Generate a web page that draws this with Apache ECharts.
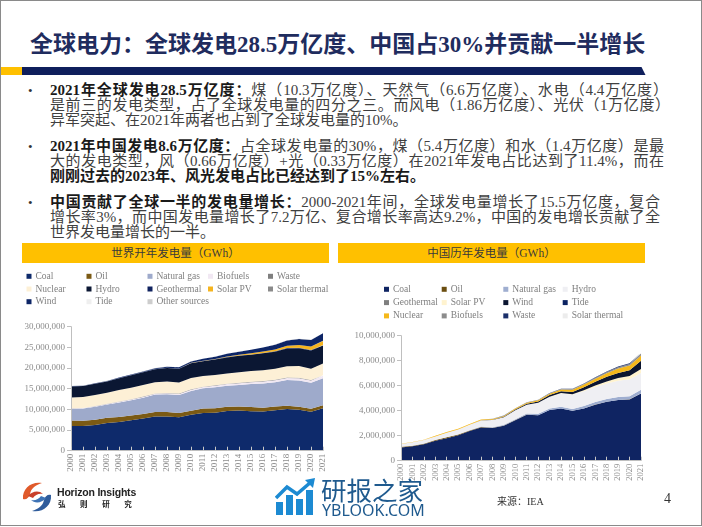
<!DOCTYPE html>
<html><head><meta charset="utf-8">
<script src="https://cdn.jsdelivr.net/npm/echarts/dist/echarts.min.js"></script>
<style>
html,body{margin:0;padding:0;background:#fff;}
#page{position:relative;width:702px;height:527px;overflow:hidden;background:#fff;font-family:"Liberation Serif","Noto Sans CJK SC",serif;}
.abs{position:absolute;white-space:nowrap;}
.ln{position:absolute;left:50px;font-size:15px;line-height:15px;height:15px;white-space:nowrap;color:#404040;}
.jl{text-align:justify;text-align-last:justify;}
.ln b{color:#1a1a1a;font-weight:bold;}
.bul{position:absolute;left:28px;font-size:13px;line-height:15px;color:#333;}
.cbar{position:absolute;top:242.5px;height:20px;line-height:20px;background:#FFC000;text-align:center;font-size:11.5px;color:#3a3a3a;font-family:"Liberation Serif","Noto Sans CJK SC",serif;}
#c1,#c2{position:absolute;left:0;top:0;width:702px;height:527px;}
</style></head>
<body><div id="page">
<div class="abs" style="left:0;top:0;width:702px;height:526px;box-sizing:border-box;border:1.5px solid #8a8a8a;"></div>
<div class="abs" style="left:30px;top:33px;font-size:23px;line-height:23px;font-weight:bold;color:#1F2C5E;">全球电力：全球发电28.5万亿度、中国占30%并贡献一半增长</div>
<div class="abs" style="left:1px;top:67px;width:21px;height:8px;background:#FFC000;"></div>
<div class="abs" style="left:21.5px;top:67px;width:624px;height:8px;background:#0F1F5C;clip-path:polygon(0 0,620px 0,624px 8px,0 8px);"></div>

<div class="bul" style="top:83px;">•</div>
<div class="ln jl" style="top:83px;width:618px;"><b>2021年全球发电28.5万亿度：</b>煤（10.3万亿度）、天然气（6.6万亿度）、水电（4.4万亿度）</div>
<div class="ln jl" style="top:98px;width:620px;">是前三的发电类型，占了全球发电量的四分之三。而风电（1.86万亿度）、光伏（1万亿度）</div>
<div class="ln" style="top:113px;">异军突起、在2021年两者也占到了全球发电量的10%。</div>

<div class="bul" style="top:138.5px;">•</div>
<div class="ln jl" style="top:138.5px;width:614px;"><b>2021年中国发电8.6万亿度：</b>占全球发电量的30%，煤（5.4万亿度）和水（1.4万亿度）是最</div>
<div class="ln jl" style="top:153.5px;width:614px;">大的发电类型，风（0.66万亿度）+光（0.33万亿度）在2021年发电占比达到了11.4%，而在</div>
<div class="ln" style="top:168.5px;"><b>刚刚过去的2023年、风光发电占比已经达到了15%左右。</b></div>

<div class="bul" style="top:195px;">•</div>
<div class="ln jl" style="top:195px;width:610px;"><b>中国贡献了全球一半的发电量增长：</b>2000-2021年间，全球发电量增长了15.5万亿度，复合</div>
<div class="ln jl" style="top:210px;width:610px;">增长率3%，而中国发电量增长了7.2万亿、复合增长率高达9.2%，中国的发电增长贡献了全</div>
<div class="ln" style="top:225px;">世界发电量增长的一半。</div>

<div class="cbar" style="left:22px;width:307px;">世界开年发电量（GWh）</div>
<div class="cbar" style="left:338px;width:307px;">中国历年发电量（GWh）</div>

<div id="c1"></div>
<div id="c2"></div>

<svg class="abs" style="left:19px;top:479px;" width="36" height="36" viewBox="0 0 36 36">
<path d="M4 20 C3 9 13 2 23 4 C17 6 12 9 11 15 C10 19 7 21 4 20 Z" fill="#E05A2B"/>
<path d="M9 17 C13 12 20 11 24 15 C20 14 16 16 14 19 Z" fill="#C9402A"/>
<path d="M32 16 C33 27 23 34 13 32 C19 30 24 27 25 21 C26 17 29 15 32 16 Z" fill="#2F5C9C"/>
<path d="M27 19 C23 24 16 25 12 21 C16 22 20 20 22 17 Z" fill="#3E73B5"/>
</svg>
<div class="abs" style="left:57px;top:486px;font-family:'Liberation Sans','DejaVu Sans',sans-serif;font-weight:bold;font-size:10.5px;line-height:12px;color:#222;letter-spacing:-0.2px;">Horizon Insights</div>
<div class="abs" style="left:58px;top:499px;font-family:'Noto Sans CJK SC',sans-serif;font-weight:bold;font-size:7.5px;line-height:9px;color:#222;letter-spacing:14.6px;">弘则研究</div>

<svg class="abs" style="left:275px;top:478px;" width="42" height="40" viewBox="0 0 42 40">
<rect x="1" y="24" width="7" height="13" fill="#1C8AD2"/>
<rect x="11" y="17" width="7" height="20" fill="#1C8AD2"/>
<rect x="21" y="21" width="7" height="16" fill="#1C8AD2"/>
<rect x="31" y="12" width="7" height="25" fill="#1C8AD2"/>
<polyline points="1,20 12,9 22,16 36,4" fill="none" stroke="#1C8AD2" stroke-width="3.5"/>
<polygon points="30,2 40,0 38,10" fill="#1C8AD2"/>
</svg>
<div class="abs" style="left:321px;top:475px;font-family:'Noto Sans CJK SC',sans-serif;font-size:25.5px;line-height:28px;color:#1F5A8E;">研报之家</div>
<div class="abs" style="left:322px;top:501px;font-family:'Noto Sans','DejaVu Sans',sans-serif;font-size:16px;line-height:19px;color:#1F5A8E;">YBLOOK.COM</div>

<div class="abs" style="left:497px;top:495.5px;font-size:10px;line-height:12px;color:#333;">来源：IEA</div>
<div class="abs" style="left:664px;top:491px;font-size:14px;line-height:16px;color:#333;">4</div>
</div>
<script>
// ---------- shared categories ----------
const years = ['2000','2001','2002','2003','2004','2005','2006','2007','2008','2009','2010','2011','2012','2013','2014','2015','2016','2017','2018','2019','2020','2021'];

// ---------- World electricity generation (GWh) ----------
const worldCoal         = [5990000,5950000,6240000,6730000,6960000,7350000,7790000,8250000,8290000,8120000,8670000,9140000,9170000,9610000,9710000,9540000,9490000,9810000,10100000,9900000,9440000,10250000];
const worldOil          = [1340000,1290000,1270000,1250000,1200000,1180000,1110000,1120000,1060000,1030000,980000,1070000,1110000,1020000,1010000,1010000,930000,870000,800000,760000,700000,760000];
const worldGas          = [2760000,2940000,3100000,3200000,3510000,3700000,3930000,4200000,4330000,4330000,4820000,4870000,5080000,5080000,5180000,5570000,5860000,5880000,6180000,6330000,6270000,6520000];
const worldBiofuels     = [120000,125000,135000,145000,160000,175000,190000,210000,230000,260000,300000,330000,370000,400000,430000,460000,480000,500000,530000,560000,590000,620000];
const worldWaste        = [50000,52000,55000,58000,62000,65000,70000,73000,76000,80000,88000,92000,96000,98000,100000,104000,108000,112000,118000,122000,126000,130000];
const worldNuclear      = [2590000,2650000,2690000,2640000,2770000,2770000,2800000,2720000,2730000,2700000,2760000,2580000,2460000,2480000,2540000,2570000,2610000,2640000,2710000,2790000,2690000,2800000];
const worldHydro        = [2700000,2620000,2690000,2720000,2880000,3000000,3090000,3140000,3290000,3290000,3530000,3570000,3750000,3890000,3980000,3970000,4090000,4140000,4290000,4340000,4450000,4370000];
const worldGeothermal   = [52000,53000,54000,56000,57000,58000,60000,62000,65000,67000,68000,69000,70000,71000,75000,80000,82000,86000,89000,92000,94000,95000];
const worldSolarPV      = [1000,2000,2000,3000,4000,5000,6000,8000,12000,20000,32000,63000,97000,135000,186000,250000,326000,445000,573000,693000,828000,1020000];
const worldSolarThermal = [500,600,600,600,600,600,600,700,900,1000,1600,3000,5000,5000,9000,9000,11000,11000,12000,13000,13000,15000];
const worldWind         = [31000,38000,52000,63000,85000,104000,133000,170000,220000,277000,342000,437000,523000,637000,712000,832000,958000,1140000,1270000,1420000,1590000,1860000];
const worldTide         = [600,600,600,600,600,600,600,600,600,600,600,600,600,600,1000,1000,1000,1000,1000,1000,1000,1000];
const worldOther        = [30000,32000,34000,36000,38000,40000,40000,40000,40000,40000,42000,44000,44000,44000,45000,46000,46000,47000,48000,49000,50000,52000];

// ---------- China electricity generation (GWh) ----------
const chinaCoal         = [1060000,1150000,1310000,1590000,1800000,2040000,2370000,2660000,2620000,2800000,3240000,3680000,3640000,4050000,4170000,3990000,4170000,4480000,4710000,4850000,4900000,5380000];
const chinaOil          = [47000,47000,50000,60000,75000,52000,51000,39000,15000,12000,13000,8000,6000,6000,10000,10000,10000,10000,10000,10000,10000,10000];
const chinaGas          = [6000,7000,8000,9000,10000,12000,22000,42000,32000,57000,69000,89000,110000,116000,133000,145000,188000,203000,215000,232000,248000,287000];
const chinaHydro        = [222000,277000,288000,284000,354000,397000,436000,485000,585000,616000,722000,699000,872000,920000,1064000,1126000,1193000,1194000,1232000,1302000,1355000,1340000];
const chinaGeothermal   = [100,100,100,100,100,100,100,100,100,100,100,100,100,100,100,100,100,100,100,100,100,200];
const chinaSolarPV      = [20,30,50,80,100,100,100,100,200,300,700,2600,6400,15000,29000,45000,75000,131000,177000,224000,261000,327000];
const chinaWind         = [600,700,900,1300,2000,2000,3700,5700,14800,27600,49400,74100,103000,141000,156000,186000,241000,295000,366000,406000,467000,656000];
const chinaTide         = [10,10,10,10,10,10,10,10,10,10,10,10,10,10,10,10,10,10,10,10,10,10];
const chinaNuclear      = [16700,17500,25100,43300,50500,53100,54800,62100,68400,70100,73900,86400,97400,111600,132500,171400,213200,248100,295000,348700,366200,407500];
const chinaBiofuels     = [2000,2000,2200,2500,3000,4000,5000,7000,14000,19000,25000,32000,38000,43000,48000,53000,65000,80000,96000,112000,136000,170000];
const chinaWaste        = [500,600,800,1000,1500,2000,2500,3000,5000,7000,9000,11000,13000,15000,17000,20000,25000,30000,35000,42000,50000,58000];
const chinaSolarThermal = [0,0,0,0,0,0,0,0,0,0,0,0,0,0,0,0,0,100,300,1500,1800,1800];

// ---------- tick labels ----------
const worldTicks = [0,5000000,10000000,15000000,20000000,25000000,30000000];
const chinaTicks = [0,2000000,4000000,6000000,8000000,10000000];

const worldSeries = [
  ['Coal', worldCoal, '#0E2A6B'], ['Oil', worldOil, '#7B5A14'], ['Natural gas', worldGas, '#9EAACB'],
  ['Biofuels', worldBiofuels, '#F1E8F3'], ['Waste', worldWaste, '#7F7F7F'], ['Nuclear', worldNuclear, '#FDF0D6'],
  ['Hydro', worldHydro, '#0B1733'], ['Geothermal', worldGeothermal, '#10235F'], ['Solar PV', worldSolarPV, '#F5B41F'],
  ['Solar thermal', worldSolarThermal, '#8A8A8A'], ['Wind', worldWind, '#0D2566'], ['Tide', worldTide, '#EFEFEF'],
  ['Other sources', worldOther, '#CDCDCD']
];
const chinaSeries = [
  ['Coal', chinaCoal, '#0F2462'], ['Oil', chinaOil, '#6B4E11'], ['Natural gas', chinaGas, '#9FAED0'],
  ['Hydro', chinaHydro, '#EFEFF3'], ['Geothermal', chinaGeothermal, '#7F7F7F'], ['Solar PV', chinaSolarPV, '#FFF3CF'],
  ['Wind', chinaWind, '#0B1530'], ['Tide', chinaTide, '#0B2362'], ['Nuclear', chinaNuclear, '#F5B81A'],
  ['Biofuels', chinaBiofuels, '#8C8C8C'], ['Waste', chinaWaste, '#1B2F6A'], ['Solar thermal', chinaSolarThermal, '#ECECEC']
];

const FONT = '"Liberation Serif","Times New Roman",serif';
const fmt = v => String(v).replace(/\B(?=(\d{3})+(?!\d))/g, ',');

function legends(cols, lefts, top, gap) {
  return cols.map((c, i) => ({
    data: c, orient: 'vertical', left: lefts[i], top: top, padding: 0,
    itemWidth: 5, itemHeight: 5, itemGap: gap, icon: 'rect', selectedMode: false,
    textStyle: { fontSize: 9.5, color: '#7f7f7f', fontFamily: FONT, padding: [0, 0, 0, -1] }
  }));
}

function build(list, grid, ticks, cols, lefts, legTop, gap, xFont) {
  return {
    animation: false,
    backgroundColor: 'transparent',
    legend: legends(cols, lefts, legTop, gap),
    grid: grid,
    xAxis: {
      type: 'category', data: years, boundaryGap: false, z: 5,
      axisLine: { show: true, lineStyle: { color: '#bfbfbf' } },
      axisTick: { show: true, inside: true, length: 4, interval: 0, lineStyle: { color: '#c8c8c8' } },
      axisLabel: { rotate: 90, interval: 0, fontSize: xFont, color: '#8c8c8c', fontFamily: FONT, margin: 3 }
    },
    yAxis: {
      type: 'value', min: ticks[0], max: ticks[ticks.length - 1], interval: ticks[1] - ticks[0], z: 5,
      splitLine: { show: false },
      axisLine: { show: true, lineStyle: { color: '#bfbfbf' } },
      axisTick: { show: true, length: 4, lineStyle: { color: '#bfbfbf' } },
      axisLabel: { fontSize: 9, color: '#8c8c8c', fontFamily: FONT, margin: 6, formatter: fmt }
    },
    series: list.map(([name, data, color]) => ({
      name, type: 'line', stack: 'total', data, symbol: 'none', smooth: false,
      color, lineStyle: { width: 0 }, areaStyle: { color, opacity: 1 },
      emphasis: { disabled: true }
    }))
  };
}

const c1 = echarts.init(document.getElementById('c1'), null, { renderer: 'canvas' });
c1.setOption(build(worldSeries,
  { left: 71, top: 326.7, width: 252, height: 124 },
  worldTicks,
  [['Coal','Nuclear','Wind'], ['Oil','Hydro','Tide'], ['Natural gas','Geothermal','Other sources'], ['Biofuels','Solar PV'], ['Waste','Solar thermal']],
  [26.5, 86.5, 147.5, 208, 268], 271.3, 2.7, 9));

const c2 = echarts.init(document.getElementById('c2'), null, { renderer: 'canvas' });
c2.setOption(build(chinaSeries,
  { left: 401, top: 335.7, width: 240, height: 125 },
  chinaTicks,
  [['Coal','Geothermal','Nuclear'], ['Oil','Solar PV','Biofuels'], ['Natural gas','Wind','Waste'], ['Hydro','Tide','Solar thermal']],
  [384, 441.7, 503.3, 562.7], 284.3, 3.3, 8.5));
</script>
</body></html>
